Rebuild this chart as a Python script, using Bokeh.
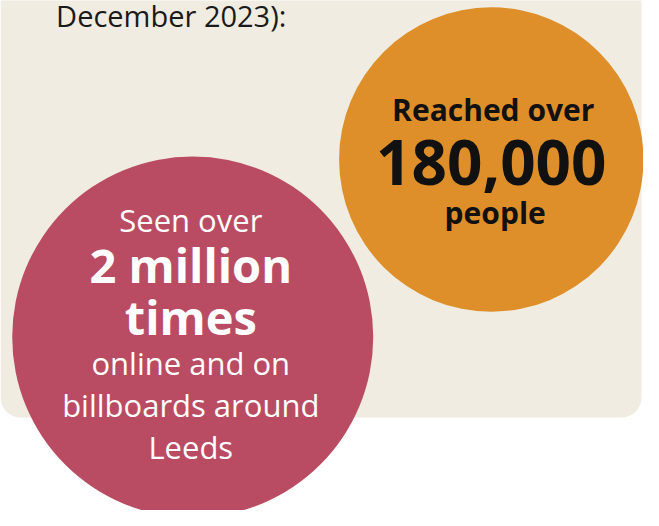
from bokeh.plotting import figure
from bokeh.models import Range1d, ColumnDataSource
from bokeh.core.properties import value
from bokeh.embed import file_html
from bokeh.resources import INLINE

# ---- content ----
intro_text = ["December 2023):"]
orange_lines = ["Reached over", "180,000", "people"]
red_lines = ["Seen over", "2 million", "times", "online and on", "billboards around", "Leeds"]

# ---- layout (reference pixel coordinates) ----
FONT = value("Open Sans")
BEIGE = "#F0ECE1"
ORANGE = "#DE8F2A"
RED = "#B94B62"

p = figure(width=643, height=510, x_range=Range1d(0, 659), y_range=Range1d(526, 0),
           output_backend="svg", toolbar_location=None, min_border=0,
           background_fill_color="white", border_fill_color="white", outline_line_color=None)
p.axis.visible = False
p.grid.visible = False

# panel
p.quad(left=[0], right=[657], top=[-40], bottom=[430], fill_color=BEIGE, line_color=None,
       border_radius=20)

# intro text
p.text(x=[57], y=[15], text=intro_text, text_font=FONT, text_font_size="29px",
       text_color="#1a1a1a", text_align="left", text_baseline="alphabetic")

# circles
p.circle(x=[503], y=[164], radius=156, fill_color=ORANGE, line_color=None)
p.circle(x=[197], y=[347], radius=185, fill_color=RED, line_color=None)

# orange text
o_src = ColumnDataSource(dict(x=[505, 503, 507], y=[112, 167, 219], text=orange_lines,
                              size=["30px", "62px", "30px"]))
p.text(x="x", y="y", text="text", source=o_src, text_font=FONT, text_font_size="size",
       text_font_style="bold", text_color="#111111", text_align="center", text_baseline="alphabetic")

# red text
r_src = ColumnDataSource(dict(x=[195, 195, 195, 195, 195, 195], y=[226, 273, 326, 374, 417, 461],
                              text=red_lines,
                              size=["31px", "47px", "47px", "31px", "31px", "31px"],
                              style=["normal", "bold", "bold", "normal", "normal", "normal"]))
p.text(x="x", y="y", text="text", source=r_src, text_font=FONT, text_font_size="size",
       text_font_style="style", text_color="white", text_align="center", text_baseline="alphabetic")

open("out.html", "w").write(file_html(p, INLINE))
